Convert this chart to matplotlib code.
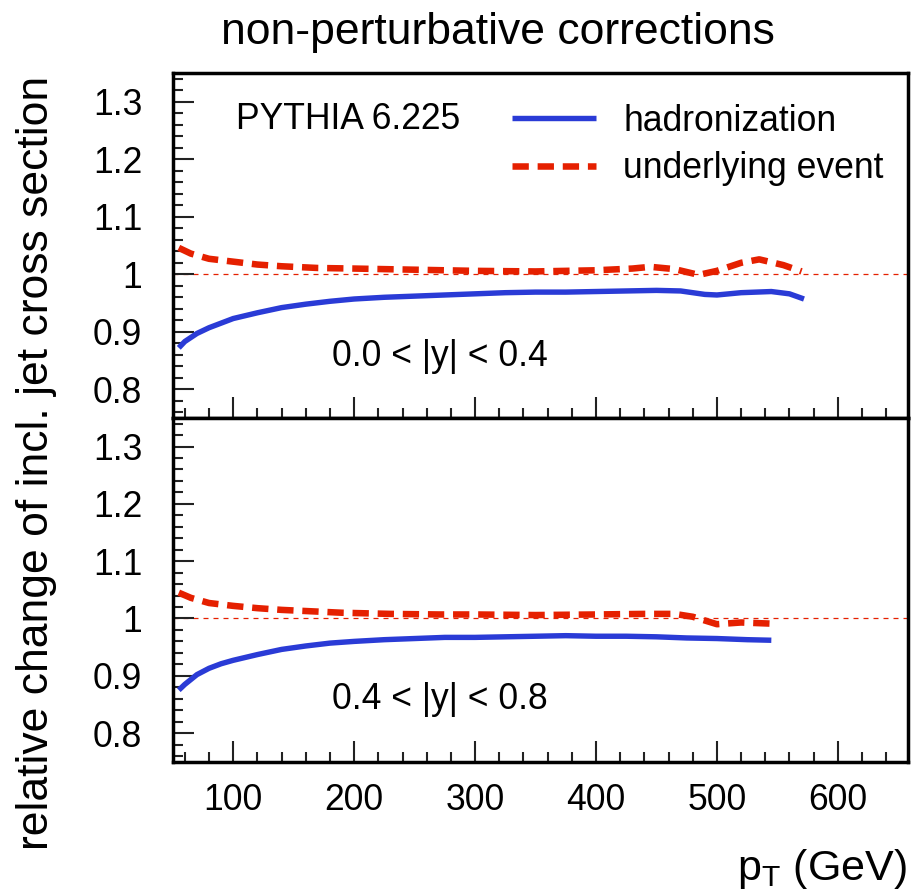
import matplotlib
matplotlib.use("Agg")
import matplotlib.pyplot as plt
from matplotlib.ticker import MultipleLocator, FuncFormatter

plt.rcParams['font.family'] = ['Liberation Sans', 'DejaVu Sans']
plt.rcParams['mathtext.default'] = 'regular'

# 0.0 < |y| < 0.4 : hadronization
pt_had_0 = [55, 60, 70, 80, 90, 100, 120, 140, 160, 180, 200, 225, 250, 275,
            300, 325, 350, 375, 400, 425, 450, 470, 490, 500, 520, 545, 560, 572]
had_0 = [0.872, 0.883, 0.897, 0.907, 0.915, 0.923, 0.933, 0.942, 0.948, 0.953,
         0.957, 0.960, 0.962, 0.964, 0.966, 0.968, 0.969, 0.969, 0.970, 0.971,
         0.972, 0.971, 0.965, 0.964, 0.968, 0.970, 0.966, 0.957]
# 0.0 < |y| < 0.4 : underlying event
pt_ue_0 = [55, 65, 80, 100, 120, 140, 170, 200, 250, 300, 350, 400, 430, 445,
           465, 485, 500, 520, 535, 555, 570]
ue_0 = [1.046, 1.036, 1.027, 1.022, 1.017, 1.014, 1.011, 1.010, 1.008, 1.006,
        1.005, 1.007, 1.010, 1.013, 1.009, 0.999, 1.006, 1.020, 1.026, 1.016,
        1.005]

# 0.4 < |y| < 0.8 : hadronization
pt_had_1 = [55, 60, 70, 80, 90, 100, 120, 140, 160, 180, 200, 225, 250, 275,
            300, 325, 350, 375, 400, 425, 450, 475, 500, 525, 545]
had_1 = [0.875, 0.885, 0.902, 0.913, 0.921, 0.927, 0.937, 0.946, 0.952, 0.957,
         0.960, 0.963, 0.965, 0.967, 0.967, 0.968, 0.969, 0.970, 0.969, 0.969,
         0.968, 0.966, 0.965, 0.963, 0.962]
# 0.4 < |y| < 0.8 : underlying event
pt_ue_1 = [55, 65, 80, 100, 120, 140, 160, 190, 230, 270, 300, 350, 400, 440,
           465, 480, 500, 520, 545]
ue_1 = [1.045, 1.036, 1.027, 1.022, 1.018, 1.015, 1.013, 1.010, 1.008, 1.007,
        1.007, 1.006, 1.007, 1.008, 1.008, 1.003, 0.990, 0.993, 0.991]

rapidity_bins = ['0.0 < |y| < 0.4', '0.4 < |y| < 0.8']
series_labels = ['hadronization', 'underlying event']

blue = '#2a3bd6'
red = '#e52000'
fs = 25.6

fig = plt.figure(figsize=(9.13, 8.93), dpi=100)
ax_top = fig.add_axes([0.1892, 0.532, 0.8053, 0.386])
ax_bot = fig.add_axes([0.1892, 0.147, 0.8053, 0.385], sharex=ax_top)


def style_panel(ax, show_xlabels):
    ax.set_xlim(50, 658)
    ax.set_ylim(0.75, 1.35)
    ax.xaxis.set_major_locator(MultipleLocator(100))
    ax.xaxis.set_minor_locator(MultipleLocator(20))
    ax.yaxis.set_major_locator(MultipleLocator(0.1))
    ax.yaxis.set_minor_locator(MultipleLocator(0.02))
    ax.yaxis.set_major_formatter(FuncFormatter(lambda v, p: f'{v:g}'))
    ax.tick_params(which='both', direction='in', top=False, right=False,
                   width=1.5, labelsize=fs, color='#222222')
    ax.tick_params(which='major', length=15)
    ax.tick_params(which='minor', length=7.5)
    ax.tick_params(axis='y', pad=22)
    ax.tick_params(axis='x', pad=15, labelbottom=show_xlabels)
    for s in ax.spines.values():
        s.set_linewidth(2.5)
    # reference line at unity
    ax.axhline(1.0, color=red, lw=0.9, ls=(0, (4, 4)), zorder=1)


panels = [(ax_top, pt_had_0, had_0, pt_ue_0, ue_0),
          (ax_bot, pt_had_1, had_1, pt_ue_1, ue_1)]
for i, (ax, xh, yh, xu, yu) in enumerate(panels):
    style_panel(ax, show_xlabels=(i == 1))
    ax.plot(xh, yh, color=blue, lw=3.9, solid_capstyle='butt',
            label=series_labels[0], zorder=3)
    ax.plot(xu, yu, color=red, lw=4.7, dashes=(2.5, 1.35),
            dash_capstyle='butt', label=series_labels[1], zorder=3)
    ax.text(0.2166, 0.152, rapidity_bins[i], transform=ax.transAxes,
            fontsize=fs, ha='left', va='baseline')

ax_top.text(0.086, 0.837, 'PYTHIA 6.225', transform=ax_top.transAxes,
            fontsize=fs, ha='left', va='baseline')
ax_top.legend(loc='upper left', bbox_to_anchor=(0.4615, 0.912), frameon=False,
              fontsize=fs, borderpad=0, borderaxespad=0, handlelength=2.37,
              handletextpad=0.76, labelspacing=0.36)

fig.text(0.5455, 0.9507, 'non-perturbative corrections', fontsize=32,
         ha='center', va='baseline')
fig.text(0.0402, 0.482, 'relative change of incl. jet cross section',
         fontsize=32, rotation=90, ha='center', va='center')
fig.text(0.9934, 0.0146, r'p$_{T}$ (GeV)', fontsize=31, ha='right',
         va='baseline')

fig.savefig('out.png', dpi=100)
